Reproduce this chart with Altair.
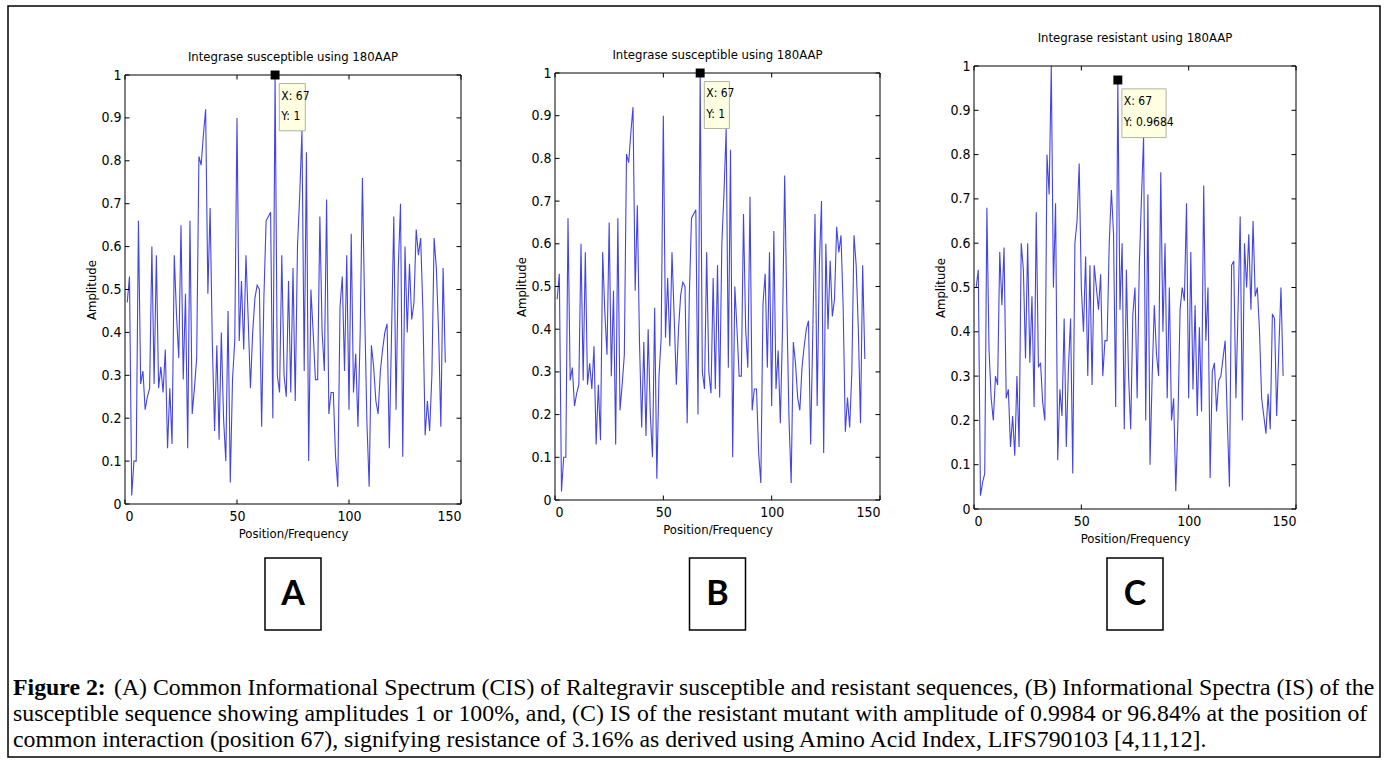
import altair as alt
import pandas as pd

W, H = 1386, 760

# ---------------- data ----------------
positions_ab = list(range(1, 144))
positions_c = list(range(1, 145))

amp_a = [0.47, 0.53, 0.02, 0.10, 0.10, 0.66, 0.28, 0.31, 0.22, 0.25,
         0.27, 0.60, 0.28, 0.58, 0.27, 0.32, 0.26, 0.36, 0.13, 0.27,
         0.14, 0.58, 0.44, 0.34, 0.65, 0.29, 0.49, 0.13, 0.66, 0.21,
         0.27, 0.34, 0.81, 0.79, 0.86, 0.92, 0.49, 0.69, 0.37, 0.17,
         0.37, 0.15, 0.40, 0.20, 0.10, 0.45, 0.05, 0.29, 0.38, 0.90,
         0.38, 0.52, 0.36, 0.58, 0.43, 0.27, 0.40, 0.48, 0.51, 0.50,
         0.18, 0.48, 0.66, 0.67, 0.68, 0.20, 1.00, 0.30, 0.26, 0.58,
         0.30, 0.25, 0.52, 0.26, 0.55, 0.24, 0.60, 0.72, 0.87, 0.31,
         0.82, 0.10, 0.50, 0.40, 0.29, 0.29, 0.67, 0.40, 0.31, 0.71,
         0.21, 0.26, 0.26, 0.11, 0.04, 0.46, 0.53, 0.31, 0.58, 0.22,
         0.63, 0.26, 0.35, 0.18, 0.40, 0.76, 0.45, 0.19, 0.04, 0.37,
         0.32, 0.24, 0.21, 0.31, 0.36, 0.40, 0.42, 0.13, 0.40, 0.67,
         0.22, 0.55, 0.70, 0.11, 0.60, 0.40, 0.56, 0.43, 0.47, 0.64,
         0.58, 0.62, 0.45, 0.16, 0.24, 0.17, 0.30, 0.62, 0.55, 0.40,
         0.18, 0.55, 0.33]

# panel B shows the same spectrum as panel A
amp_b = [0.47, 0.53, 0.02, 0.10, 0.10, 0.66, 0.28, 0.31, 0.22, 0.25,
         0.27, 0.60, 0.28, 0.58, 0.27, 0.32, 0.26, 0.36, 0.13, 0.27,
         0.14, 0.58, 0.44, 0.34, 0.65, 0.29, 0.49, 0.13, 0.66, 0.21,
         0.27, 0.34, 0.81, 0.79, 0.86, 0.92, 0.49, 0.69, 0.37, 0.17,
         0.37, 0.15, 0.40, 0.20, 0.10, 0.45, 0.05, 0.29, 0.38, 0.90,
         0.38, 0.52, 0.36, 0.58, 0.43, 0.27, 0.40, 0.48, 0.51, 0.50,
         0.18, 0.48, 0.66, 0.67, 0.68, 0.20, 1.00, 0.30, 0.26, 0.58,
         0.30, 0.25, 0.52, 0.26, 0.55, 0.24, 0.60, 0.72, 0.87, 0.31,
         0.82, 0.10, 0.50, 0.40, 0.29, 0.29, 0.67, 0.40, 0.31, 0.71,
         0.21, 0.26, 0.26, 0.11, 0.04, 0.46, 0.53, 0.31, 0.58, 0.22,
         0.63, 0.26, 0.35, 0.18, 0.40, 0.76, 0.45, 0.19, 0.04, 0.37,
         0.32, 0.24, 0.21, 0.31, 0.36, 0.40, 0.42, 0.13, 0.40, 0.67,
         0.22, 0.55, 0.70, 0.11, 0.60, 0.40, 0.56, 0.43, 0.47, 0.64,
         0.58, 0.62, 0.45, 0.16, 0.24, 0.17, 0.30, 0.62, 0.55, 0.40,
         0.18, 0.55, 0.33]

amp_c = [0.50, 0.54, 0.03, 0.06, 0.08, 0.68, 0.36, 0.25, 0.20, 0.30,
         0.28, 0.58, 0.46, 0.59, 0.25, 0.27, 0.14, 0.21, 0.12, 0.30,
         0.14, 0.60, 0.54, 0.34, 0.60, 0.33, 0.48, 0.23, 0.67, 0.32,
         0.33, 0.24, 0.20, 0.80, 0.71, 1.00, 0.50, 0.69, 0.11, 0.27,
         0.21, 0.43, 0.14, 0.32, 0.43, 0.08, 0.60, 0.65, 0.78, 0.50,
         0.40, 0.57, 0.30, 0.55, 0.28, 0.55, 0.50, 0.45, 0.53, 0.30,
         0.38, 0.38, 0.60, 0.72, 0.62, 0.23, 0.9684, 0.45, 0.60, 0.18,
         0.54, 0.30, 0.18, 0.44, 0.50, 0.25, 0.55, 0.70, 0.84, 0.20,
         0.71, 0.10, 0.30, 0.46, 0.35, 0.30, 0.76, 0.40, 0.60, 0.25,
         0.50, 0.20, 0.25, 0.04, 0.20, 0.45, 0.50, 0.47, 0.69, 0.25,
         0.58, 0.27, 0.46, 0.21, 0.41, 0.22, 0.73, 0.38, 0.50, 0.07,
         0.31, 0.33, 0.22, 0.29, 0.30, 0.34, 0.38, 0.20, 0.05, 0.55,
         0.56, 0.25, 0.45, 0.66, 0.20, 0.60, 0.50, 0.62, 0.45, 0.65,
         0.48, 0.50, 0.40, 0.25, 0.21, 0.17, 0.26, 0.18, 0.44, 0.43,
         0.21, 0.36, 0.50, 0.30]

x_ticks = [0, 50, 100, 150]
y_ticks = [0, 0.1, 0.2, 0.3, 0.4, 0.5, 0.6, 0.7, 0.8, 0.9, 1]

titles = ["Integrase susceptible using 180AAP",
          "Integrase susceptible using 180AAP",
          "Integrase resistant using 180AAP"]
tip_x = [67, 67, 67]
tip_y = [1.0, 1.0, 0.9684]
tip_labels = [["X: 67", "Y: 1"], ["X: 67", "Y: 1"], ["X: 67", "Y: 0.9684"]]
panel_letters = ["A", "B", "C"]

caption_bold = "Figure 2:"
caption_lines = [
    "(A) Common Informational Spectrum (CIS) of Raltegravir susceptible and resistant sequences, (B) Informational Spectra (IS) of the",
    "susceptible sequence showing amplitudes 1 or 100%, and, (C) IS of the resistant mutant with amplitude of 0.9984 or 96.84% at the position of",
    "common interaction (position 67), signifying resistance of 3.16% as derived using Amino Acid Index, LIFS790103 [4,11,12].",
]

# ---------------- styling / layout ----------------
LINE = "#4444e6"
MFONT = "Liberation Sans Narrow, DejaVu Sans Condensed, Arial Narrow, Liberation Sans, sans-serif"
SERIF = "Liberation Serif, Times New Roman, serif"
CAP_SIZE = 23.8

panels_geom = [
    dict(xr=[125, 461], yr=[504, 75], ty=57, tipw=13.5),
    dict(xr=[555, 880], yr=[500, 73], ty=55, tipw=13.5),
    dict(xr=[974, 1296], yr=[509, 66], ty=38, tipw=22.5),
]

one = pd.DataFrame({"k": [0]})
layers = []

# ---------------- decorations: border, letter boxes, caption ----------------
layers.append(alt.Chart(one).mark_rect(fill="transparent", stroke="black", strokeWidth=1.5).encode(
    x=alt.value(8), x2=alt.value(1380), y=alt.value(6), y2=alt.value(757)))

for i, L in enumerate(panel_letters):
    xr = panels_geom[i]["xr"]
    cx = (xr[0] + xr[1]) / 2
    bw = 56
    layers.append(alt.Chart(one).mark_rect(fill="white", stroke="black", strokeWidth=1.5).encode(
        x=alt.value(cx - bw / 2), x2=alt.value(cx + bw / 2), y=alt.value(558), y2=alt.value(630)))
    layers.append(alt.Chart(one).mark_text(font="Lato, Open Sans, sans-serif", fontSize=34,
                                           fontWeight="bold", color="black", align="center",
                                           baseline="middle").encode(
        x=alt.value(cx), y=alt.value(595), text=alt.value(L)))

cap_y = [688, 714, 740]
layers.append(alt.Chart(one).mark_text(font=SERIF, fontSize=CAP_SIZE, fontWeight="bold", color="black",
                                       align="left", baseline="middle").encode(
    x=alt.value(13), y=alt.value(cap_y[0]), text=alt.value(caption_bold)))
cap_x = [114, 13, 13]
for i, t in enumerate(caption_lines):
    layers.append(alt.Chart(one).mark_text(font=SERIF, fontSize=CAP_SIZE, color="black",
                                           align="left", baseline="middle").encode(
        x=alt.value(cap_x[i]), y=alt.value(cap_y[i]), text=alt.value(t)))


# ---------------- panels ----------------
def add_panel(pos, amp, g, title, tx, ty_val, tip_text):
    xr, yr = g["xr"], g["yr"]

    def xs():
        return alt.Scale(domain=[0, 150], range=xr, nice=False, zero=False)

    def ys():
        return alt.Scale(domain=[0, 1], range=yr, nice=False, zero=False)

    df = pd.DataFrame({"pos": pos, "amp": amp})
    layers.append(alt.Chart(df).mark_line(color=LINE, strokeWidth=1.1).encode(
        x=alt.X("pos:Q", scale=xs(),
                axis=alt.Axis(orient="bottom", offset=yr[0] - H, values=x_ticks, format="d",
                              ticks=False, domain=False, grid=False, labelPadding=5,
                              labelFont=MFONT, labelFontSize=14, labelColor="black",
                              title="Position/Frequency", titleFont=MFONT, titleFontSize=13,
                              titleFontWeight="normal", titleColor="black", titlePadding=4)),
        y=alt.Y("amp:Q", scale=ys(),
                axis=alt.Axis(orient="left", offset=-xr[0], values=y_ticks, format="~g",
                              ticks=False, domain=False, grid=False, labelPadding=4,
                              labelFont=MFONT, labelFontSize=14, labelColor="black",
                              title="Amplitude", titleFont=MFONT, titleFontSize=13,
                              titleFontWeight="normal", titleColor="black", titlePadding=2)),
    ))

    layers.append(alt.Chart(one).mark_rect(fill="transparent", stroke="black", strokeWidth=1).encode(
        x=alt.X(datum=0, scale=xs(), axis=None), x2=alt.X2(datum=150),
        y=alt.Y(datum=0, scale=ys(), axis=None), y2=alt.Y2(datum=1)))

    tlx = 150 * 4.5 / (xr[1] - xr[0])
    tly = 4.5 / (yr[0] - yr[1])
    rows = []
    for v in y_ticks:
        rows.append(dict(a=0, b=tlx, c=v, d=v))
        rows.append(dict(a=150 - tlx, b=150, c=v, d=v))
    for v in x_ticks:
        rows.append(dict(a=v, b=v, c=0, d=tly))
        rows.append(dict(a=v, b=v, c=1 - tly, d=1))
    layers.append(alt.Chart(pd.DataFrame(rows)).mark_rule(color="black", strokeWidth=1).encode(
        x=alt.X("a:Q", scale=xs(), axis=None), x2="b:Q",
        y=alt.Y("c:Q", scale=ys(), axis=None), y2="d:Q"))

    layers.append(alt.Chart(one).mark_text(font=MFONT, fontSize=13, color="black",
                                           baseline="middle").encode(
        x=alt.X(datum=75, scale=xs(), axis=None), y=alt.value(g["ty"]), text=alt.value(title)))

    layers.append(alt.Chart(one).mark_rect(fill="#ffffe1", stroke="#a0a08c", strokeWidth=0.8).encode(
        x=alt.X(datum=tx + 1.9, scale=xs(), axis=None), x2=alt.X2(datum=tx + g["tipw"]),
        y=alt.Y(datum=ty_val - 0.02, scale=ys(), axis=None), y2=alt.Y2(datum=ty_val - 0.13)))
    tip_df = pd.DataFrame({"x": [tx + 2.8, tx + 2.8],
                           "y": [ty_val - 0.048, ty_val - 0.095],
                           "t": tip_text})
    layers.append(alt.Chart(tip_df).mark_text(font=MFONT, fontSize=12, color="black",
                                              align="left", baseline="middle").encode(
        x=alt.X("x:Q", scale=xs(), axis=None), y=alt.Y("y:Q", scale=ys(), axis=None), text="t:N"))
    layers.append(alt.Chart(pd.DataFrame({"x": [tx], "y": [ty_val]})).mark_square(
        size=80, color="black", filled=True, opacity=1).encode(
        x=alt.X("x:Q", scale=xs(), axis=None), y=alt.Y("y:Q", scale=ys(), axis=None)))


series = [(positions_ab, amp_a), (positions_ab, amp_b), (positions_c, amp_c)]
for i in range(3):
    add_panel(series[i][0], series[i][1], panels_geom[i], titles[i],
              tip_x[i], tip_y[i], tip_labels[i])

chart = alt.layer(*layers).resolve_scale(
    x="independent", y="independent"
).resolve_axis(x="independent", y="independent").properties(
    width=W, height=H, padding=0, autosize=alt.AutoSizeParams(type="none"),
    background="white"
).configure_view(stroke=None)

chart.save("out.html", embed_options={"renderer": "svg", "actions": False})
